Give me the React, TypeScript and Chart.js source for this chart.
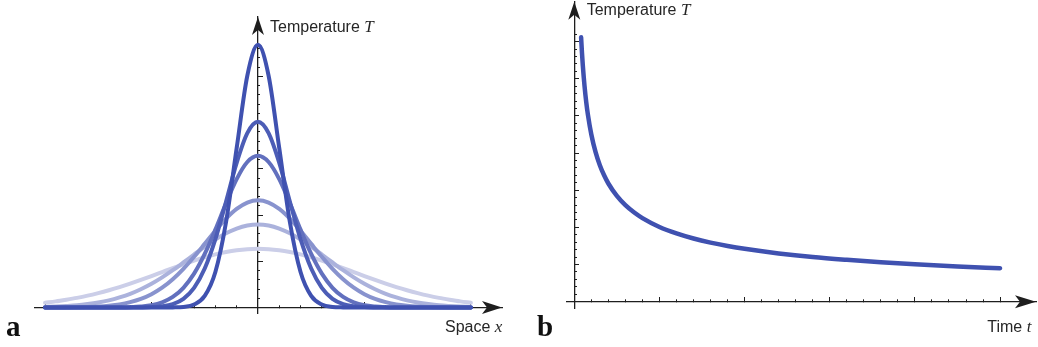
import React, { useEffect, useRef } from "react";
import { Chart, registerables } from "chart.js";

Chart.register(...registerables);

// ---------- Panel a: temperature profiles T(x) at successive times ----------
const spaceX = [
  -10, -9.5, -9, -8.5, -8, -7.5, -7, -6.5, -6, -5.5, -5, -4.5, -4, -3.5, -3, -2.5, -2, -1.5, -1, -0.5,
  0, 0.5, 1, 1.5, 2, 2.5, 3, 3.5, 4, 4.5, 5, 5.5, 6, 6.5, 7, 7.5, 8, 8.5, 9, 9.5, 10,
];

const profileT1 = [
  0, 0, 0, 0, 0, 0, 0, 0, 0, 0, 0, 0, 0.01, 0.06, 0.32, 1.25, 3.84, 9.22, 17.23, 25.06,
  28.4, 25.06, 17.23, 9.22, 3.84, 1.25, 0.32, 0.06, 0.01, 0, 0, 0, 0, 0, 0, 0, 0, 0, 0, 0, 0,
];
const profileT2 = [
  0, 0, 0, 0, 0, 0, 0, 0, 0, 0.01, 0.04, 0.13, 0.37, 0.94, 2.12, 4.21, 7.39, 11.44, 15.64, 18.86,
  20.08, 18.86, 15.64, 11.44, 7.39, 4.21, 2.12, 0.94, 0.37, 0.13, 0.04, 0.01, 0, 0, 0, 0, 0, 0, 0, 0, 0,
];
const profileT3 = [
  0, 0, 0, 0, 0, 0, 0, 0.01, 0.04, 0.11, 0.25, 0.56, 1.14, 2.13, 3.66, 5.79, 8.42, 11.27, 13.88, 15.73,
  16.4, 15.73, 13.88, 11.27, 8.42, 5.79, 3.66, 2.13, 1.14, 0.56, 0.25, 0.11, 0.04, 0.01, 0, 0, 0, 0, 0, 0, 0,
];
const profileT6 = [
  0, 0.01, 0.01, 0.03, 0.06, 0.11, 0.2, 0.34, 0.58, 0.93, 1.44, 2.14, 3.06, 4.18, 5.48, 6.88, 8.3, 9.61, 10.66, 11.35,
  11.59, 11.35, 10.66, 9.61, 8.3, 6.88, 5.48, 4.18, 3.06, 2.14, 1.44, 0.93, 0.58, 0.34, 0.2, 0.11, 0.06, 0.03, 0.01, 0.01, 0,
];
const profileT10 = [
  0.06, 0.1, 0.16, 0.24, 0.37, 0.54, 0.77, 1.09, 1.48, 1.98, 2.57, 3.26, 4.03, 4.87, 5.73, 6.57, 7.35, 8.02, 8.54, 8.87,
  8.98, 8.87, 8.54, 8.02, 7.35, 6.57, 5.73, 4.87, 4.03, 3.26, 2.57, 1.98, 1.48, 1.09, 0.77, 0.54, 0.37, 0.24, 0.16, 0.1, 0.06,
];
const profileT20 = [
  0.52, 0.66, 0.84, 1.04, 1.28, 1.56, 1.87, 2.21, 2.58, 2.98, 3.4, 3.83, 4.26, 4.67, 5.07, 5.43, 5.75, 6.0, 6.19, 6.31,
  6.35, 6.31, 6.19, 6.0, 5.75, 5.43, 5.07, 4.67, 4.26, 3.83, 3.4, 2.98, 2.58, 2.21, 1.87, 1.56, 1.28, 1.04, 0.84, 0.66, 0.52,
];
// darkest (earliest) first so it is drawn on top
const profiles = [profileT1, profileT2, profileT3, profileT6, profileT10, profileT20];

// ---------- Panel b: temperature at the centre over time ----------
const timeT = [0.4, 0.45, 0.5, 0.6, 0.7, 0.8, 1, 1.25, 1.5, 1.75, 2, 2.5, 3, 3.5, 4, 5, 6, 7, 8, 9, 10, 12, 14, 16, 18, 20, 22.5, 25];
const centreTemp = [
  35.58, 33.54, 31.82, 29.05, 26.89, 25.16, 22.5, 20.12, 18.37, 17.01, 15.91, 14.23, 12.99, 12.03, 11.25,
  10.06, 9.19, 8.5, 7.95, 7.5, 7.12, 6.5, 6.01, 5.63, 5.3, 5.03, 4.74, 4.5,
];

// ---------- styling ----------
const AXIS = "#1e1e1e";
const TEXT = "#262626";
const BLUE = "rgb(63,81,176)";
const profileColors = [
  "rgb(63,81,176)",
  "rgb(76,93,182)",
  "rgb(98,112,190)",
  "rgb(136,147,206)",
  "rgb(171,178,220)",
  "rgb(203,206,232)",
];

function arrowHead(ctx: CanvasRenderingContext2D, tipX: number, tipY: number, dir: "right" | "up", len: number, wid: number, notch: number) {
  ctx.save();
  ctx.fillStyle = AXIS;
  ctx.beginPath();
  if (dir === "right") {
    ctx.moveTo(tipX, tipY);
    ctx.lineTo(tipX - len, tipY - wid / 2);
    ctx.lineTo(tipX - len + notch, tipY);
    ctx.lineTo(tipX - len, tipY + wid / 2);
  } else {
    ctx.moveTo(tipX, tipY);
    ctx.lineTo(tipX - wid / 2, tipY + len);
    ctx.lineTo(tipX, tipY + len - notch);
    ctx.lineTo(tipX + wid / 2, tipY + len);
  }
  ctx.closePath();
  ctx.fill();
  ctx.restore();
}

function mixedLabel(ctx: CanvasRenderingContext2D, x: number, y: number, plain: string, italic: string) {
  ctx.save();
  ctx.fillStyle = TEXT;
  ctx.textAlign = "left";
  ctx.textBaseline = "alphabetic";
  ctx.font = '16px "Liberation Sans", Arial, Helvetica, sans-serif';
  ctx.fillText(plain, x, y);
  const w = ctx.measureText(plain).width;
  ctx.font = 'italic 17px "Liberation Serif", "Times New Roman", serif';
  ctx.fillText(italic, x + w, y);
  ctx.restore();
}

function panelLetter(ctx: CanvasRenderingContext2D, x: number, y: number, s: string) {
  ctx.save();
  ctx.fillStyle = "#111";
  ctx.textAlign = "left";
  ctx.textBaseline = "alphabetic";
  ctx.font = 'bold 29px "Liberation Serif", "Times New Roman", serif';
  ctx.fillText(s, x, y);
  ctx.restore();
}

function axisPair(
  id: string,
  axis: "x" | "y",
  min: number,
  max: number,
  step: number,
  position: any,
  len: number,
  showBorder: boolean,
  visible: (v: number) => boolean
) {
  return {
    [id]: {
      type: "linear",
      axis,
      min,
      max,
      position,
      z: 1,
      border: { display: showBorder, color: AXIS, width: 1.3 },
      grid: {
        display: true,
        drawOnChartArea: false,
        drawTicks: true,
        tickLength: -len,
        tickWidth: 1,
        color: "rgba(0,0,0,0)",
        tickColor: (c: any) => (c.tick && visible(c.tick.value) ? AXIS : "rgba(0,0,0,0)"),
      },
      ticks: { display: false, stepSize: step, includeBounds: false },
    },
  };
}

function PanelA() {
  const ref = useRef<HTMLCanvasElement | null>(null);
  useEffect(() => {
    if (!ref.current) return;
    const xMin = -10.47, xMax = 11.46, yMin = -0.595, yMax = 31.41;
    const xVis = (v: number) => Math.abs(v) <= 10 && v !== 0;
    const yVis = (v: number) => v >= 1 && v <= 28;
    const decor = {
      id: "decorA",
      afterDraw(chart: any) {
        const { ctx, chartArea, scales } = chart;
        const y0 = scales.y.getPixelForValue(0);
        const x0 = scales.x.getPixelForValue(0);
        arrowHead(ctx, chartArea.right, y0, "right", 20, 13, 5);
        arrowHead(ctx, x0, chartArea.top, "up", 18, 12, 5);
        mixedLabel(ctx, 270, 31.5, "Temperature ", "T");
        mixedLabel(ctx, 445, 331.5, "Space ", "x");
        panelLetter(ctx, 6, 336, "a");
      },
    };
    const chart = new Chart(ref.current, {
      type: "line",
      data: {
        datasets: profiles.map((p, i) => ({
          data: p.map((v, k) => ({ x: spaceX[k], y: v })),
          borderColor: profileColors[i],
          borderWidth: 4,
          borderCapStyle: "round",
          borderJoinStyle: "round",
          cubicInterpolationMode: "monotone",
          pointRadius: 0,
          fill: false,
        })),
      },
      options: {
        animation: false,
        responsive: false,
        maintainAspectRatio: false,
        layout: { padding: { left: 35, right: 520 - 502, top: 17, bottom: 347 - 313 } },
        plugins: { legend: { display: false }, tooltip: { enabled: false } },
        scales: {
          ...axisPair("x", "x", xMin, xMax, 1, { y: 0 }, 3, true, xVis),
          ...axisPair("x5", "x", xMin, xMax, 5, { y: 0 }, 5, false, xVis),
          ...axisPair("y", "y", yMin, yMax, 1, { x: 0 }, 3, true, yVis),
          ...axisPair("y5", "y", yMin, yMax, 5, { x: 0 }, 5, false, yVis),
        },
      } as any,
      plugins: [decor as any],
    });
    return () => chart.destroy();
  }, []);
  return <canvas ref={ref} width={520} height={347} style={{ position: "absolute", left: 0, top: 0, display: "block" }} />;
}

function PanelB() {
  const ref = useRef<HTMLCanvasElement | null>(null);
  useEffect(() => {
    if (!ref.current) return;
    const xMin = -0.446, xMax = 27.11, yMin = -0.89, yMax = 40.38;
    const xVis = (v: number) => v >= 1 && v <= 25;
    const yVis = (v: number) => v >= 1 && v <= 36;
    const decor = {
      id: "decorB",
      afterDraw(chart: any) {
        const { ctx, chartArea, scales } = chart;
        const y0 = scales.y.getPixelForValue(0);
        const x0 = scales.x.getPixelForValue(0);
        arrowHead(ctx, chartArea.right, y0, "right", 21, 13, 5);
        arrowHead(ctx, x0, chartArea.top, "up", 18, 12, 5);
        mixedLabel(ctx, 66.7, 15, "Temperature ", "T");
        mixedLabel(ctx, 467.3, 331.5, "Time ", "t");
        panelLetter(ctx, 17, 336, "b");
      },
    };
    const chart = new Chart(ref.current, {
      type: "line",
      data: {
        datasets: [
          {
            data: centreTemp.map((v, k) => ({ x: timeT[k], y: v })),
            borderColor: BLUE,
            borderWidth: 4.5,
            borderCapStyle: "round",
            borderJoinStyle: "round",
            cubicInterpolationMode: "monotone",
            pointRadius: 0,
            fill: false,
          },
        ],
      },
      options: {
        animation: false,
        responsive: false,
        maintainAspectRatio: false,
        layout: { padding: { left: 46.7, right: 2, top: 1.7, bottom: 347 - 308.3 } },
        plugins: { legend: { display: false }, tooltip: { enabled: false } },
        scales: {
          ...axisPair("x", "x", xMin, xMax, 1, { y: 0 }, 3, true, xVis),
          ...axisPair("x5", "x", xMin, xMax, 5, { y: 0 }, 5, false, xVis),
          ...axisPair("y", "y", yMin, yMax, 1, { x: 0 }, 3, true, yVis),
          ...axisPair("y5", "y", yMin, yMax, 5, { x: 0 }, 5, false, yVis),
        },
      } as any,
      plugins: [decor as any],
    });
    return () => chart.destroy();
  }, []);
  return <canvas ref={ref} width={518} height={347} style={{ position: "absolute", left: 520, top: 0, display: "block" }} />;
}

export default function App() {
  return (
    <div style={{ position: "absolute", left: 0, top: 0, width: 1038, height: 347, background: "#fff", overflow: "hidden" }}>
      <PanelA />
      <PanelB />
    </div>
  );
}
